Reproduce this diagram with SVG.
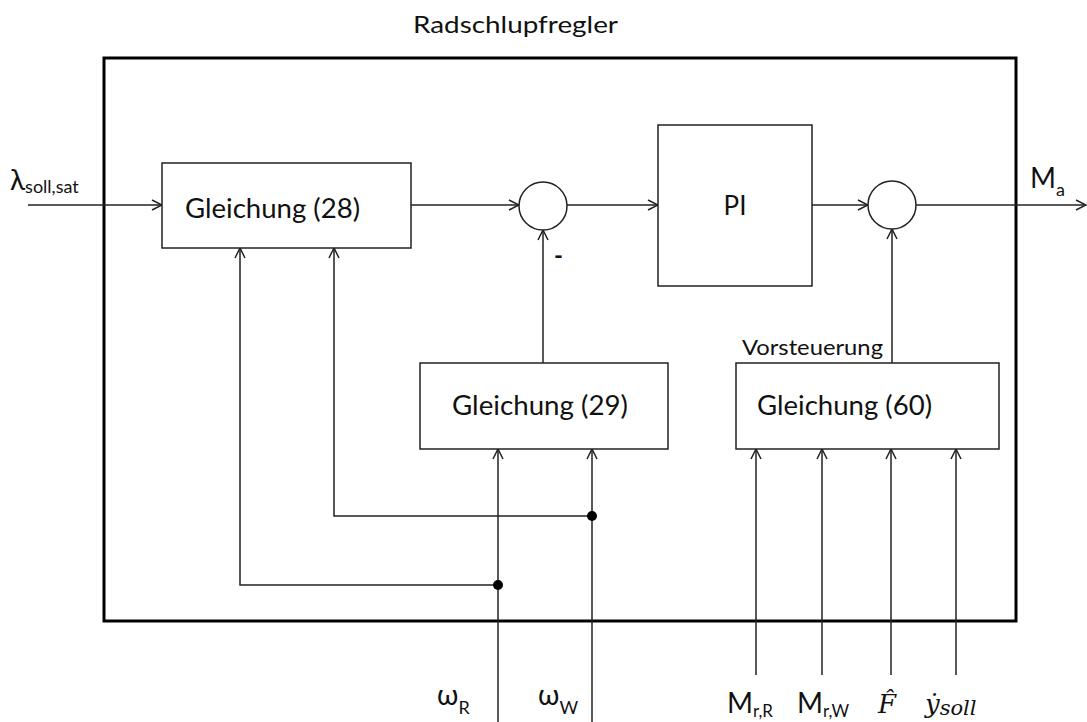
<svg xmlns="http://www.w3.org/2000/svg" width="1087" height="722" viewBox="0 0 1087 722">
<style>
.ln{stroke:#222;stroke-width:1.5;fill:none}
.bx{stroke:#222;stroke-width:1.5;fill:#fff}
.t{font-family:Lato,"Open Sans","Liberation Sans",sans-serif;fill:#111}
.m{font-family:"DejaVu Serif","Liberation Serif",serif;font-style:italic;fill:#111}
</style>
<defs>
<marker id="a" markerUnits="userSpaceOnUse" markerWidth="14" markerHeight="14" viewBox="0 0 14 14" refX="13" refY="7" orient="auto">
<path d="M3,2 L13,7 L3,12" fill="none" stroke="#222" stroke-width="1.5"/>
</marker>
</defs>
<text class="t" x="413" y="33" font-size="24" textLength="205" lengthAdjust="spacingAndGlyphs">Radschlupfregler</text>
<g id="outer"><rect x="104" y="58" width="912" height="563" fill="none" stroke="#000" stroke-width="3"/></g>
<g id="connectors">
<line class="ln" x1="28" y1="205" x2="162" y2="205" marker-end="url(#a)"/>
<line class="ln" x1="411" y1="205" x2="519" y2="205" marker-end="url(#a)"/>
<line class="ln" x1="567" y1="205" x2="658" y2="205" marker-end="url(#a)"/>
<line class="ln" x1="812" y1="205" x2="868" y2="205" marker-end="url(#a)"/>
<line class="ln" x1="916" y1="205" x2="1086" y2="205" marker-end="url(#a)"/>
<line class="ln" x1="543" y1="363" x2="543" y2="230" marker-end="url(#a)"/>
<line class="ln" x1="892" y1="363" x2="892" y2="229" marker-end="url(#a)"/>
<polyline class="ln" points="498,585 240,585 240,248" marker-end="url(#a)"/>
<polyline class="ln" points="592,516 334,516 334,248" marker-end="url(#a)"/>
<line class="ln" x1="498" y1="722" x2="498" y2="449" marker-end="url(#a)"/>
<line class="ln" x1="592" y1="722" x2="592" y2="449" marker-end="url(#a)"/>
<line class="ln" x1="756" y1="675" x2="756" y2="449" marker-end="url(#a)"/>
<line class="ln" x1="822" y1="675" x2="822" y2="449" marker-end="url(#a)"/>
<line class="ln" x1="891" y1="675" x2="891" y2="449" marker-end="url(#a)"/>
<line class="ln" x1="956" y1="675" x2="956" y2="449" marker-end="url(#a)"/>
<circle cx="498" cy="585" r="5" fill="#000"/>
<circle cx="592" cy="516" r="5" fill="#000"/>
</g>
<g id="g28">
<rect class="bx" x="162" y="163" width="249" height="85"/>
<text class="t" x="185" y="218" font-size="26" textLength="175" lengthAdjust="spacingAndGlyphs">Gleichung (28)</text>
</g>
<g id="sum1"><circle class="bx" cx="543" cy="206" r="24"/>
<text class="t" x="554" y="264" font-size="24" font-weight="bold">-</text></g>
<g id="pi">
<rect class="bx" x="658" y="125" width="154" height="161"/>
<text class="t" x="735" y="215" font-size="26" text-anchor="middle">PI</text>
</g>
<g id="sum2"><circle class="bx" cx="892" cy="205" r="24"/></g>
<g id="g29">
<rect class="bx" x="420" y="363" width="248" height="86"/>
<text class="t" x="452" y="415" font-size="26" textLength="176" lengthAdjust="spacingAndGlyphs">Gleichung (29)</text>
</g>
<g id="g60">
<text class="t" x="742" y="355" font-size="21" textLength="141" lengthAdjust="spacingAndGlyphs">Vorsteuerung</text>
<rect class="bx" x="736" y="363" width="263" height="86"/>
<text class="t" x="757" y="415" font-size="26" textLength="175" lengthAdjust="spacingAndGlyphs">Gleichung (60)</text>
</g>
<g id="labels">
<text class="t" x="10" y="190" font-size="28">λ<tspan font-size="18" dy="3">soll,sat</tspan></text>
<text class="t" x="1030" y="188" font-size="28">M<tspan font-size="18" dy="8">a</tspan></text>
<text class="t" x="437" y="705" font-size="28">ω<tspan font-size="18" dy="9">R</tspan></text>
<text class="t" x="538" y="705" font-size="28">ω<tspan font-size="18" dy="9">W</tspan></text>
<text class="t" x="727" y="713" font-size="28">M<tspan font-size="17" dy="4">r,R</tspan></text>
<text class="t" x="797" y="713" font-size="28">M<tspan font-size="17" dy="4">r,W</tspan></text>
<text class="m" x="878" y="713" font-size="26">F̂</text>
<text class="m" x="925" y="713" font-size="26">ẏ<tspan font-size="21" dy="2">soll</tspan></text>
</g>
</svg>
